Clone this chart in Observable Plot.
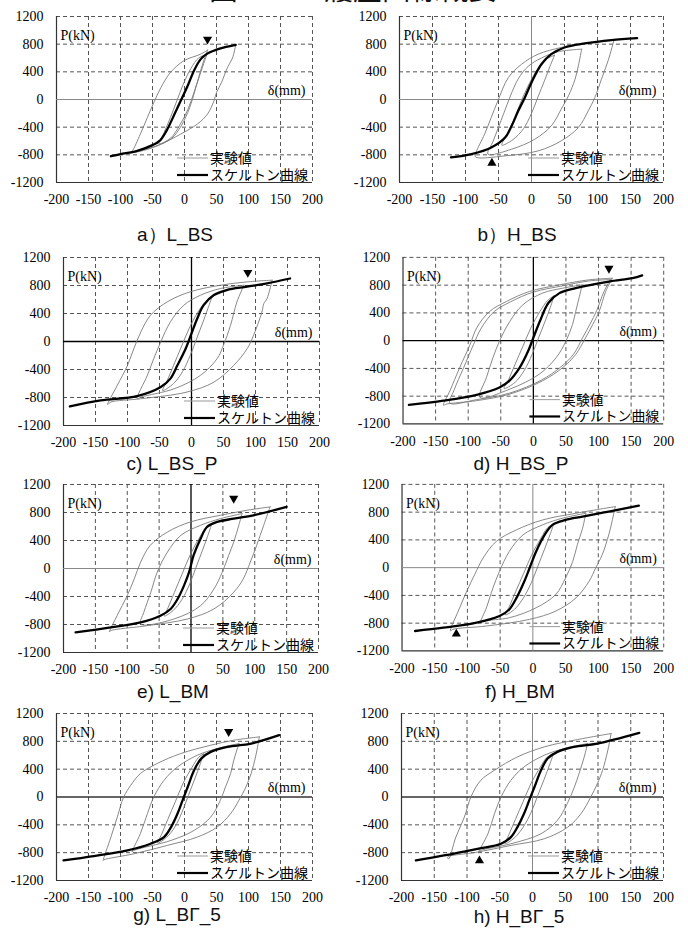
<!DOCTYPE html>
<html><head><meta charset="utf-8">
<script src="https://cdn.jsdelivr.net/npm/d3@7"></script>
<script src="https://cdn.jsdelivr.net/npm/@observablehq/plot@0.6"></script>
<style>
html,body{margin:0;padding:0;background:#fff;}
body{width:688px;height:929px;overflow:hidden;position:relative;}
.panel{position:absolute;}
.panel svg{overflow:visible;}
.title{position:absolute;font-family:"Liberation Sans",Arial,sans-serif;font-size:19px;color:#111;transform:translate(-50%,-50%);white-space:nowrap;}
#head{position:absolute;left:0;top:0;}
</style></head><body>
<svg id="head" width="688" height="12"><text x="209" y="0" font-family="Noto Sans CJK JP, sans-serif" font-size="28.8" fill="#111">図－７　履歴曲線概要</text></svg>
<script>
// ---------- data ----------
const xTicks = [-200,-150,-100,-50,0,50,100,150,200];
const yTicks = [-1200,-800,-400,0,400,800,1200];
const panelNames = ["a）L_BS","b）H_BS","c) L_BS_P","d) H_BS_P","e) L_BM","f) H_BM","g) L_BΓ_5","h) H_BΓ_5"];
const legendLabels = ["実験値","スケルトン曲線"];
const axisLabelP = "P(kN)";
const axisLabelD = "δ(mm)";

// skeleton curves (δ mm, P kN)
const skelA = [[-115,-820],[-100,-790],[-75,-745],[-50,-660],[-38,-590],[-28,-450],[-15,-200],[-5,0],[5,200],[15,420],[25,580],[35,660],[50,720],[65,760],[80,790]];
const skelB = [[-122,-838],[-91,-790],[-61,-694],[-40,-550],[-30,-380],[-20,-164],[-10,30],[0,246],[15,510],[30,655],[50,752],[81,810],[121,858],[160,888]];
const skelC = [[-190,-927],[-142,-842],[-85,-780],[-48,-650],[-33,-530],[-22,-340],[-9,-100],[-1,90],[9,329],[19,520],[35,663],[55,735],[87,783],[118,830],[154,900]];
const skelD = [[-191,-927],[-138,-865],[-87,-780],[-52,-675],[-37,-580],[-21,-388],[-8,-150],[0,43],[10,280],[23,542],[40,685],[65,757],[116,852],[152,900],[167,940]];
const skelE = [[-181,-913],[-126,-841],[-79,-770],[-48,-674],[-32,-578],[-21,-435],[-11,-244],[-3,-53],[4,186],[15,425],[25,593],[41,665],[67,712],[98,760],[150,880]];
const skelF = [[-180,-913],[-137,-865],[-86,-793],[-51,-698],[-36,-602],[-25,-435],[-13,-196],[-5,-5],[5,234],[18,473],[30,617],[50,688],[76,736],[116,808],[162,894]];
const skelG = [[-189,-912],[-142,-850],[-89,-768],[-53,-672],[-32,-576],[-21,-432],[-11,-240],[-3,-48],[5,144],[15,384],[26,552],[41,648],[67,720],[104,768],[148,888]];
const skelH = [[-178,-912],[-135,-840],[-84,-744],[-48,-672],[-33,-576],[-23,-432],[-13,-240],[-5,-48],[3,144],[13,384],[23,552],[38,648],[63,720],[99,768],[163,922]];

// experimental hysteresis loops (δ mm, P kN)
const loopsA = [
  [[35,650],[30,520],[22,300],[14,80],[5,-150],[-8,-380],[-22,-560],[-40,-640],[-32,-480],[-22,-260],[-12,-20],[-2,220],[10,450],[22,600],[35,650]],
  [[36,715],[30,560],[24,380],[17,150],[8,-120],[-5,-380],[-20,-560],[-45,-680],[-70,-750],[-85,-770],[-82,-750],[-69,-500],[-58,-260],[-48,-45],[-37,170],[-22,390],[-1,560],[25,655],[36,713]],
  [[80,790],[75,600],[67,460],[58,250],[50,100],[46,-20],[36,-210],[20,-355],[-6,-500],[-37,-645],[-69,-740],[-100,-790],[-115,-815]]
];
const loopsB = [
  [[35,640],[28,480],[20,280],[10,40],[0,-200],[-12,-420],[-28,-580],[-45,-660],[-38,-520],[-28,-320],[-18,-80],[-6,180],[8,420],[22,580],[35,640]],
  [[76,728],[71,487],[66,294],[56,53],[45,-140],[30,-381],[5,-574],[-30,-718],[-66,-790],[-58,-600],[-50,-400],[-42,-200],[-32,50],[-20,300],[-5,480],[15,600],[40,690],[76,728]],
  [[125,858],[116,559],[106,294],[96,29],[86,-164],[71,-405],[45,-598],[10,-743],[-40,-815],[-85,-830],[-84,-766],[-71,-500],[-61,-260],[-51,-20],[-35,318],[-15,510],[10,655],[45,752],[81,810],[125,858]]
];
const loopsC = [
  [[32,640],[26,480],[18,280],[8,40],[-2,-200],[-14,-430],[-28,-600],[-45,-700],[-38,-560],[-28,-340],[-16,-80],[-4,180],[10,420],[22,570],[32,640]],
  [[82,804],[71,566],[61,232],[50,-52],[40,-245],[14,-484],[-27,-675],[-79,-794],[-85,-818],[-69,-484],[-59,-245],[-48,-5],[-33,280],[-12,518],[14,661],[45,756],[82,804]],
  [[126,876],[118,613],[113,542],[110,420],[97,89],[87,-102],[66,-341],[35,-580],[-7,-722],[-79,-818],[-126,-865],[-131,-900],[-116,-627],[-100,-341],[-90,-100],[-79,139],[-64,375],[-38,566],[-2,710],[45,804],[87,852],[126,876]]
];
const loopsD = [
  [[32,650],[26,480],[18,280],[8,40],[-2,-200],[-14,-430],[-28,-600],[-45,-690],[-38,-560],[-28,-340],[-16,-80],[-4,180],[10,420],[22,580],[32,650]],
  [[75,804],[70,613],[65,422],[60,231],[50,-7],[35,-245],[9,-484],[-36,-698],[-82,-818],[-72,-531],[-62,-245],[-52,-7],[-36,279],[-16,518],[14,685],[45,756],[75,804]],
  [[121,900],[111,709],[101,422],[91,231],[80,40],[65,-198],[45,-388],[14,-579],[-36,-770],[-87,-865],[-133,-913],[-138,-930],[-128,-722],[-113,-388],[-97,-54],[-87,184],[-67,422],[-41,566],[-6,709],[40,804],[85,876],[121,900]],
  [[118,880],[108,700],[97,430],[87,240],[76,50],[62,-190],[42,-380],[12,-570],[-36,-755],[-87,-850],[-128,-900],[-122,-720],[-107,-390],[-92,-60],[-80,180],[-60,420],[-35,560],[0,700],[45,790],[85,860],[118,880]]
];
const loopsE = [
  [[32,620],[26,460],[18,260],[8,20],[-2,-220],[-14,-440],[-28,-600],[-42,-680],[-36,-560],[-26,-340],[-14,-80],[-2,180],[12,420],[22,560],[32,620]],
  [[80,784],[75,617],[67,378],[59,186],[49,-53],[36,-292],[15,-531],[-27,-722],[-79,-793],[-74,-626],[-63,-339],[-53,-53],[-37,234],[-16,473],[15,617],[46,712],[80,784]],
  [[124,880],[114,617],[103,330],[93,91],[82,-148],[67,-339],[36,-578],[-6,-722],[-69,-817],[-126,-888],[-128,-905],[-116,-674],[-100,-387],[-89,-148],[-79,91],[-64,330],[-37,521],[-1,665],[46,760],[88,832],[124,880]]
];
const loopsF = [
  [[32,630],[26,470],[18,270],[8,30],[-2,-210],[-14,-430],[-28,-600],[-42,-680],[-36,-560],[-26,-340],[-14,-80],[-2,180],[12,420],[22,570],[32,630]],
  [[81,784],[76,569],[68,330],[61,91],[50,-148],[35,-387],[5,-578],[-36,-722],[-76,-770],[-80,-790],[-71,-578],[-61,-292],[-51,-53],[-36,234],[-15,473],[15,617],[45,712],[81,784]],
  [[126,880],[121,665],[116,473],[106,186],[96,-5],[86,-196],[66,-435],[35,-626],[-5,-745],[-71,-841],[-122,-888],[-126,-910],[-114,-626],[-101,-339],[-89,-100],[-76,139],[-56,378],[-25,545],[15,688],[66,784],[126,880]]
];
const loopsG = [
  [[30,620],[24,460],[16,260],[6,20],[-4,-220],[-15,-430],[-28,-580],[-42,-660],[-36,-540],[-26,-320],[-14,-60],[-2,200],[12,430],[22,570],[30,620]],
  [[85,768],[77,528],[72,336],[64,144],[56,-48],[41,-288],[15,-480],[-21,-624],[-79,-768],[-82,-790],[-69,-528],[-58,-240],[-48,0],[-32,240],[-11,432],[20,600],[51,696],[85,768]],
  [[117,864],[111,576],[104,336],[96,144],[85,-48],[72,-240],[51,-432],[20,-576],[-27,-696],[-79,-816],[-126,-902],[-127,-912],[-115,-576],[-105,-288],[-95,0],[-84,168],[-69,336],[-43,480],[-6,624],[41,744],[77,816],[117,864]]
];
const loopsH = [
  [[32,620],[26,460],[18,260],[8,20],[-2,-220],[-14,-430],[-28,-590],[-42,-670],[-36,-540],[-26,-320],[-14,-60],[-2,200],[12,430],[22,570],[32,620]],
  [[84,768],[79,576],[71,336],[64,144],[53,-96],[38,-336],[13,-528],[-33,-672],[-79,-768],[-82,-790],[-68,-528],[-58,-240],[-48,0],[-33,240],[-13,432],[18,600],[48,696],[84,768]],
  [[120,912],[115,672],[107,384],[99,192],[89,0],[74,-240],[54,-432],[18,-600],[-33,-696],[-84,-792],[-130,-864],[-128,-890],[-117,-576],[-104,-288],[-94,0],[-79,240],[-58,384],[-23,576],[18,720],[69,826],[120,912]]
];

// triangle markers
const markerX = [36,-60,88,116,67,-117,69,-81];
const markerY = [870,-920,985,1040,1000,-955,940,-915];
const markerDir = ["down","up","down","down","down","up","down","up"];

const skeletons = [skelA,skelB,skelC,skelD,skelE,skelF,skelG,skelH];
const loopSets = [loopsA,loopsB,loopsC,loopsD,loopsE,loopsF,loopsG,loopsH];

// ---------- layout & styles ----------
const frames = [
  {l:56,t:16,w:256,h:166,tx:175,ty:235},
  {l:399,t:16,w:264,h:166,tx:517,ty:235},
  {l:63,t:257,w:256,h:168,tx:172,ty:464},
  {l:403,t:257,w:263,h:168,tx:521,ty:464},
  {l:63,t:484,w:255,h:168,tx:173,ty:692},
  {l:402,t:484,w:264,h:168,tx:520,ty:692},
  {l:56,t:713,w:256,h:167,tx:177,ty:915},
  {l:401,t:713,w:262,h:167,tx:519,ty:917}
];
const zeroXStyle = ["dash","gray","black","black","black","gray","dash","gray"];
const zeroYStyle = ["gray","gray","black","black","gray","gray","dark","dark"];
const lineStyle = {
  black:{stroke:"#000",strokeWidth:1.3},
  dark:{stroke:"#333",strokeWidth:1.6},
  gray:{stroke:"#888",strokeWidth:1}
};
const ML=55, MR=25, MT=12, MB=30;
const gridDash = "4,3";
const gridColor = "#555";
const serif = "Liberation Serif";

frames.forEach((f,i)=>{
  const loops = loopSets[i].flatMap((lp,k)=>lp.map(p=>({x:p[0],y:p[1],k})));
  const skel = skeletons[i].map(p=>({x:p[0],y:p[1]}));
  const gx = [-150,-100,-50,50,100,150].concat(zeroXStyle[i]==="dash"?[0]:[]);
  const gy = [-800,-400,400,800];
  const marks = [
    Plot.ruleX(gx,{stroke:gridColor,strokeDasharray:gridDash,strokeWidth:1}),
    Plot.ruleY(gy,{stroke:gridColor,strokeDasharray:gridDash,strokeWidth:1}),
    Plot.ruleX([200],{stroke:gridColor,strokeDasharray:gridDash,strokeWidth:1}),
    Plot.ruleY([1200],{stroke:gridColor,strokeDasharray:gridDash,strokeWidth:1}),
    Plot.ruleX([-200],{stroke:"#333",strokeWidth:1.2}),
    Plot.ruleY([-1200],{stroke:"#333",strokeWidth:1.2}),
    Plot.ruleY([0],lineStyle[zeroYStyle[i]])
  ];
  if (zeroXStyle[i]!=="dash") marks.push(Plot.ruleX([0],lineStyle[zeroXStyle[i]]));
  marks.push(
    Plot.axisX(xTicks,{tickSize:0,tickPadding:12,tickFormat:d=>`${d}`,label:null,fontFamily:serif,fontSize:14,fill:"#000"}),
    Plot.axisY(yTicks,{tickSize:0,tickPadding:13,tickFormat:d=>`${d}`,label:null,fontFamily:serif,fontSize:14,fill:"#000"}),
    Plot.line(loops,{x:"x",y:"y",z:"k",curve:"catmull-rom",stroke:"#7a7a7a",strokeWidth:0.9}),
    Plot.line(skel,{x:"x",y:"y",curve:"catmull-rom",stroke:"#000",strokeWidth:2.3}),
    Plot.dot([{x:markerX[i],y:markerY[i]}],{x:"x",y:"y",symbol:"triangle",r:3.4,fill:"#000",stroke:null,rotate:markerDir[i]==="down"?180:0}),
    Plot.text([axisLabelP],{frameAnchor:"top-left",dx:4,dy:14,textAnchor:"start",fontSize:14,fontFamily:serif}),
    Plot.text([{x:200,y:0}],{x:"x",y:"y",text:()=>axisLabelD,dx:-7,dy:-9,textAnchor:"end",fontSize:14,fontFamily:serif})
  );
  const svg = Plot.plot({
    width: f.w+ML+MR, height: f.h+MT+MB,
    marginLeft:ML, marginRight:MR, marginTop:MT, marginBottom:MB,
    style:{background:"transparent",color:"#000"},
    x:{domain:[-200,200]},
    y:{domain:[-1200,1200]},
    marks
  });
  const wrap = document.createElement("div");
  wrap.className="panel";
  wrap.style.left=(f.l-ML)+"px";
  wrap.style.top=(f.t-MT)+"px";
  wrap.appendChild(svg);
  document.body.appendChild(wrap);
  // legend
  const g = d3.select(svg).append("g").attr("text-anchor","start");
  const R = ML+f.w, B = MT+f.h;
  g.append("line").attr("x1",R-135).attr("x2",R-104).attr("y1",B-24).attr("y2",B-24).attr("stroke","#999").attr("stroke-width",1);
  g.append("line").attr("x1",R-135).attr("x2",R-104).attr("y1",B-7).attr("y2",B-7).attr("stroke","#000").attr("stroke-width",2.2);
  [B-24,B-7].forEach((yy,j)=>{
    g.append("text").attr("x",R-102).attr("y",yy).attr("dy","0.36em")
     .attr("style","font-family:'Noto Sans CJK JP',sans-serif;font-size:14px;text-anchor:start")
     .attr("fill","#000")
     .text(legendLabels[j]);
  });
  // title
  const t = document.createElement("div");
  t.className="title"; t.style.left=f.tx+"px"; t.style.top=f.ty+"px";
  t.textContent = panelNames[i];
  document.body.appendChild(t);
});
</script>
</body></html>
